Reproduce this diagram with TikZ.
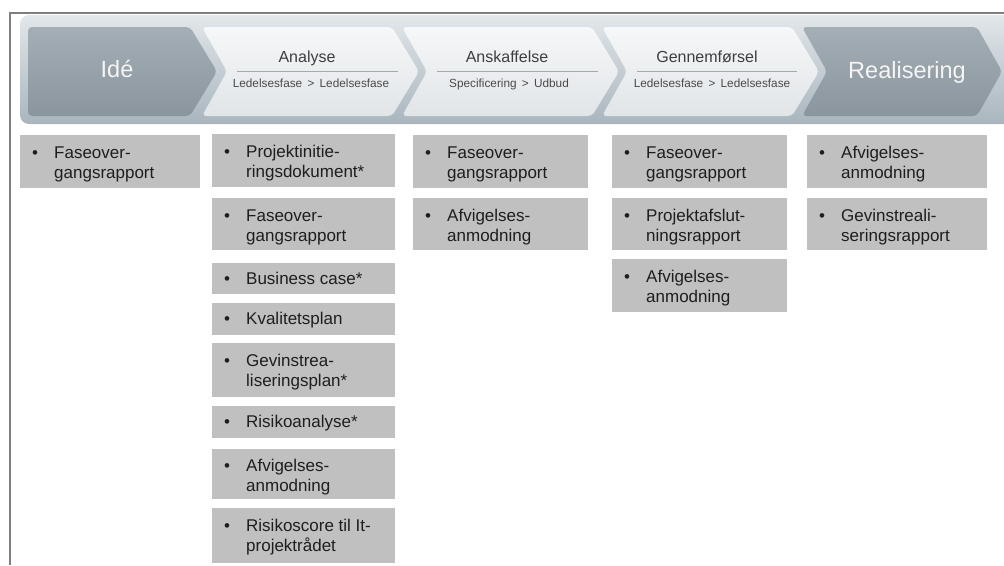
\documentclass[tikz,border=0pt]{standalone}
\usepackage{fontspec}
\setmainfont{Liberation Sans}
\usetikzlibrary{calc}
\definecolor{framegray}{HTML}{7F7F7F}
\definecolor{bantop}{HTML}{E2E7EA}
\definecolor{banbot}{HTML}{A9B5BE}
\definecolor{lighttop}{HTML}{F6F7F8}
\definecolor{lightbot}{HTML}{E1E5E8}
\definecolor{darktop}{HTML}{A4AEB5}
\definecolor{darkbot}{HTML}{8A959D}
\definecolor{headtext}{HTML}{3E3E3E}
\definecolor{subtext}{HTML}{4A4A4A}
\definecolor{hline}{HTML}{A3ABB1}
\definecolor{boxgray}{HTML}{C0C0C0}
\definecolor{itemtext}{HTML}{1E1E1E}
\newcommand{\bitem}[1]{\makebox[22pt][l]{\textbullet}\begin{tabular}[t]{@{}l@{}}#1\end{tabular}}
% name, left, top, width, height, baseline offset, text
\newcommand{\bx}[7]{%
  \node[itembox, minimum width=#4, minimum height=#5] (#1) at (#2,#3) {};
  \node[itemtxt] (#1t) at ($(#1.north west)+(12,#6)$) {\bitem{#7}};}
\begin{document}
\begin{tikzpicture}[x=1pt,y=-1pt,
  itembox/.style={fill=boxgray, draw=none, inner sep=0pt, anchor=north west},
  itemtxt/.style={inner sep=0pt, anchor=base west, text=itemtext, font=\fontsize{17}{20}\selectfont},
  lightchev/.style={top color=lighttop, bottom color=lightbot, rounded corners=4pt},
  darkchev/.style={top color=darktop, bottom color=darkbot, rounded corners=4pt},
  head/.style={inner sep=0pt, anchor=base, text=headtext, font=\fontsize{16}{19}\selectfont},
  subhead/.style={inner sep=0pt, anchor=base, text=subtext, font=\fontsize{11.8}{14}\selectfont},
  bighead/.style={inner sep=0pt, anchor=base, text=white!96!black, font=\fontsize{23.5}{28}\selectfont},
  sepline/.style={draw=hline, line width=0.9pt}]
\useasboundingbox (0,0) rectangle (1004,565);
\begin{scope}
\clip (0,0) rectangle (1004,565);
% banner
\path[top color=bantop, bottom color=banbot, rounded corners=9pt] (20,15) rectangle (1030,124);
% chevrons
\path[darkchev] (28,27) -- (190,27) -- (217,71.5) -- (190,116) -- (28,116) -- cycle;
\path[lightchev] (202,27) -- (392,27) -- (419,71.5) -- (392,116) -- (202,116) -- (227,71.5) -- cycle;
\path[lightchev] (402,27) -- (592,27) -- (619,71.5) -- (592,116) -- (402,116) -- (427,71.5) -- cycle;
\path[lightchev] (602,27) -- (792,27) -- (819,71.5) -- (792,116) -- (602,116) -- (627,71.5) -- cycle;
\path[darkchev] (802,27) -- (977,27) -- (1002,71.5) -- (977,116) -- (802,116) -- (827,71.5) -- cycle;
% frame
\draw[framegray, line width=2pt] (10,565) -- (10,12.5) -- (1010,12.5);
\end{scope}
% header texts
\node[bighead] (ide) at (117,77.5) {Idé};
\node[head] (analyse) at (307,62) {Analyse};
\node[subhead] (analysesub) at (311,87) {Ledelsesfase \,>\, Ledelsesfase};
\draw[sepline] (237,71) -- (398,71);
\node[head] (anskaf) at (507,62) {Anskaffelse};
\node[subhead] (anskafsub) at (509,87) {Specificering \,>\, Udbud};
\draw[sepline] (437,71) -- (598,71);
\node[head] (gennem) at (707,62) {Gennemførsel};
\node[subhead] (gennemsub) at (712,87) {Ledelsesfase \,>\, Ledelsesfase};
\draw[sepline] (637,71) -- (797,71);
\node[bighead] (real) at (907,78) {Realisering};
% column 1
\bx{a1}{20}{135}{180}{53}{23}{Faseover-\\gangsrapport}
% column 2
\bx{b1}{212}{134}{183}{53}{23}{Projektinitie-\\ringsdokument*}
\bx{b2}{212}{198}{183}{52}{23}{Faseover-\\gangsrapport}
\bx{b3}{212}{263}{183}{31}{21}{Business case*}
\bx{b4}{212}{303}{183}{32}{21.5}{Kvalitetsplan}
\bx{b5}{212}{343}{183}{54}{23}{Gevinstrea-\\liseringsplan*}
\bx{b6}{212}{406}{183}{32}{21.5}{Risikoanalyse*}
\bx{b7}{212}{449}{183}{50}{22}{Afvigelses-\\anmodning}
\bx{b8}{212}{508}{183}{55}{23}{Risikoscore til It-\\projektrådet}
% column 3
\bx{c1}{413}{135}{175}{53}{23}{Faseover-\\gangsrapport}
\bx{c2}{413}{198}{175}{52}{23}{Afvigelses-\\anmodning}
% column 4
\bx{d1}{612}{135}{175}{53}{23}{Faseover-\\gangsrapport}
\bx{d2}{612}{198}{175}{52}{23}{Projektafslut-\\ningsrapport}
\bx{d3}{612}{259}{175}{53}{23}{Afvigelses-\\anmodning}
% column 5
\bx{e1}{807}{135}{180}{53}{23}{Afvigelses-\\anmodning}
\bx{e2}{807}{198}{180}{52}{23}{Gevinstreali-\\seringsrapport}
\end{tikzpicture}
\end{document}
